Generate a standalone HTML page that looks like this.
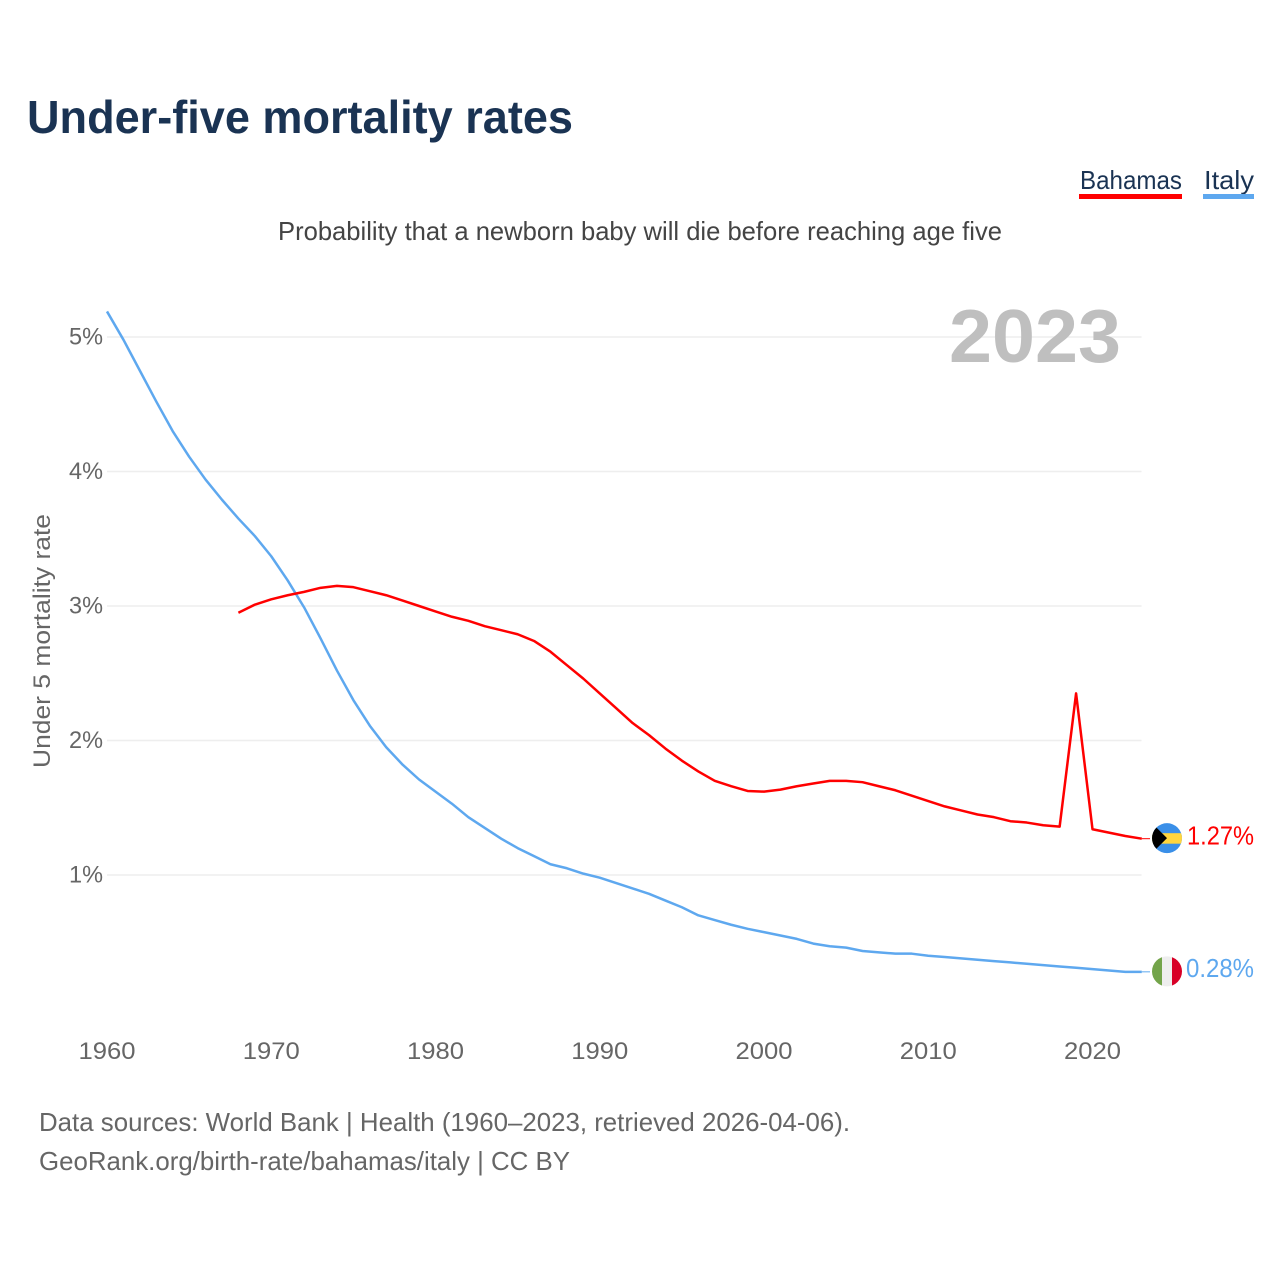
<!DOCTYPE html>
<html lang="en">
<head>
<meta charset="utf-8">
<title>Under-five mortality rates</title>
<style>
html,body{margin:0;padding:0;background:#fff;}
svg{display:block;}
text{font-family:"Liberation Sans",sans-serif;}
</style>
</head>
<body>
<svg id="chart" xmlns="http://www.w3.org/2000/svg" width="1280" height="1280" viewBox="0 0 1280 1280">
  <defs>
    <clipPath id="clip-bs"><circle id="clip-bs-c" r="15"></circle></clipPath>
    <clipPath id="clip-it"><circle id="clip-it-c" r="15"></circle></clipPath>
  </defs>
  <rect width="1280" height="1280" fill="#fff"></rect>

  <text x="27" y="133" font-size="46" font-weight="700" fill="#1a3353" textLength="546" lengthAdjust="spacingAndGlyphs">Under-five mortality rates</text>

  <text x="278" y="240" font-size="26" fill="#444" textLength="724" lengthAdjust="spacingAndGlyphs">Probability that a newborn baby will die before reaching age five</text>

  <g>
    <g>
      <text x="1080" y="189" font-size="26" fill="#1a3353" textLength="102" lengthAdjust="spacingAndGlyphs">Bahamas</text>
      <rect x="1079" y="194" width="103" height="5" fill="#ff0000"></rect>
    </g>
    <g>
      <text x="1204" y="189" font-size="26" fill="#1a3353" textLength="50" lengthAdjust="spacingAndGlyphs">Italy</text>
      <rect x="1203" y="194" width="51" height="5" fill="#5ea8ef"></rect>
    </g>
  </g>

  <text transform="translate(50,768) rotate(-90)" x="0" y="0" font-size="24" fill="#666" textLength="254" lengthAdjust="spacingAndGlyphs">Under 5 mortality rate</text>

  <g id="grid"></g>
  <g id="y-ticks"></g>
  <g id="x-ticks"></g>

  <text x="949" y="362" font-size="75" font-weight="700" fill="#bfbfbf" textLength="172" lengthAdjust="spacingAndGlyphs">2023</text>

  <g id="series"></g>
  <g id="ends"></g>

  <text x="39" y="1131" font-size="26" fill="#666" textLength="811" lengthAdjust="spacingAndGlyphs">Data sources: World Bank | Health (1960–2023, retrieved 2026-04-06).</text>
  <text x="39" y="1170" font-size="26" fill="#666" textLength="531" lengthAdjust="spacingAndGlyphs">GeoRank.org/birth-rate/bahamas/italy | CC BY</text>
</svg>
<script>
const yTicks = [1, 2, 3, 4, 5];
const yTickLabels = ['1%', '2%', '3%', '4%', '5%'];
const xTicks = [1960, 1970, 1980, 1990, 2000, 2010, 2020];
const italyStartYear = 1960;
const bahamasStartYear = 1968;
const italyValues = [
  5.19, 4.98, 4.75, 4.52, 4.30, 4.11, 3.94, 3.79, 3.65, 3.52,
  3.37, 3.19, 2.99, 2.76, 2.52, 2.30, 2.11, 1.95, 1.82, 1.71,
  1.62, 1.53, 1.43, 1.35, 1.27, 1.20, 1.14, 1.08, 1.05, 1.01,
  0.98, 0.94, 0.90, 0.86, 0.81, 0.76, 0.70, 0.665, 0.63, 0.60,
  0.575, 0.55, 0.525, 0.49, 0.47, 0.46, 0.435, 0.425, 0.415, 0.415,
  0.40, 0.39, 0.38, 0.37, 0.36, 0.35, 0.34, 0.33, 0.32, 0.31,
  0.30, 0.29, 0.28, 0.28
];
const bahamasValues = [
  2.95, 3.01, 3.05, 3.08, 3.105, 3.135, 3.15, 3.14, 3.11, 3.08,
  3.04, 3.00, 2.96, 2.92, 2.89, 2.85, 2.82, 2.79, 2.74, 2.66,
  2.56, 2.46, 2.35, 2.24, 2.13, 2.04, 1.94, 1.85, 1.77, 1.70,
  1.66, 1.625, 1.62, 1.635, 1.66, 1.68, 1.70, 1.70, 1.69, 1.66,
  1.63, 1.59, 1.55, 1.51, 1.48, 1.45, 1.43, 1.40, 1.39, 1.37,
  1.36, 2.35, 1.34, 1.315, 1.29, 1.27
];
const italyFinalLabel = '0.28%';
const bahamasFinalLabel = '1.27%';

const NS = 'http://www.w3.org/2000/svg';
const xScale = function (year) { return 107 + (year - 1960) * 16.425; };
const yScale = function (v) { return 1009.5 - v * 134.5; };

function make(tag, attrs, parent, content) {
  const el = document.createElementNS(NS, tag);
  Object.keys(attrs).forEach(function (k) { el.setAttribute(k, attrs[k]); });
  if (content !== undefined) el.textContent = content;
  parent.appendChild(el);
  return el;
}

const gridG = document.getElementById('grid');
const yG = document.getElementById('y-ticks');
yTicks.forEach(function (v, i) {
  const line = make('line', { x1: 107, x2: 1141.5, y1: yScale(v), y2: yScale(v), stroke: '#eeeeee', 'stroke-width': 1.5 }, gridG);
  
  
  const label = make('text', { x: 103, y: yScale(v) + 7.5, 'font-size': 24, fill: '#666', 'text-anchor': 'end', textLength: 34, lengthAdjust: 'spacingAndGlyphs' }, yG, yTickLabels[i]);
  
  
});

const xG = document.getElementById('x-ticks');
xTicks.forEach(function (year) {
  const label = make('text', { x: xScale(year), y: 1059, 'font-size': 24, fill: '#666', 'text-anchor': 'middle', textLength: 57, lengthAdjust: 'spacingAndGlyphs' }, xG, String(year));
  
  
});

function linePath(values, startYear) {
  return values.map(function (v, i) {
    return (i ? 'L' : 'M') + xScale(startYear + i).toFixed(2) + ' ' + yScale(v).toFixed(2);
  }).join(' ');
}

const seriesG = document.getElementById('series');

const italyLine = make('path', { d: linePath(italyValues, italyStartYear), fill: 'none', stroke: '#5ea8ef', 'stroke-width': 2.5, 'stroke-linejoin': 'round' }, seriesG);



const bahamasLine = make('path', { d: linePath(bahamasValues, bahamasStartYear), fill: 'none', stroke: '#ff0000', 'stroke-width': 2.5, 'stroke-linejoin': 'round' }, seriesG);



const endsG = document.getElementById('ends');
const lastX = xScale(2023);
const cx = 1167;
const bsY = yScale(bahamasValues[bahamasValues.length - 1]);
const itY = yScale(italyValues[italyValues.length - 1]);

const bsTick = make('line', { x1: lastX, x2: 1150, y1: bsY, y2: bsY, stroke: '#ff0000', 'stroke-width': 1 }, endsG);


const itTick = make('line', { x1: lastX, x2: 1150, y1: itY, y2: itY, stroke: '#5ea8ef', 'stroke-width': 1 }, endsG);



document.getElementById('clip-bs-c').setAttribute('cx', cx);
document.getElementById('clip-bs-c').setAttribute('cy', bsY - 0.5);
document.getElementById('clip-it-c').setAttribute('cx', cx);
document.getElementById('clip-it-c').setAttribute('cy', itY - 0.5);

const bsFlag = make('g', { 'clip-path': 'url(#clip-bs)' }, endsG);


make('rect', { x: cx - 15, y: bsY - 16, width: 30, height: 32, fill: '#3a8fe8' }, bsFlag);
make('rect', { x: cx - 15, y: bsY - 5.5, width: 30, height: 10.5, fill: '#ffd53e' }, bsFlag);
make('polygon', { points: [cx - 16, bsY - 16.5, cx, bsY - 0.5, cx - 16, bsY + 15.5].join(' '), fill: '#000' }, bsFlag);

const itFlag = make('g', { 'clip-path': 'url(#clip-it)' }, endsG);


make('rect', { x: cx - 15, y: itY - 16, width: 10, height: 32, fill: '#73a44a' }, itFlag);
make('rect', { x: cx - 5, y: itY - 16, width: 10, height: 32, fill: '#eeeeee' }, itFlag);
make('rect', { x: cx + 5, y: itY - 16, width: 10, height: 32, fill: '#d80027' }, itFlag);

const bsLabel = make('text', { x: 1187, y: bsY + 6, 'font-size': 26, fill: '#ff0000', textLength: 67, lengthAdjust: 'spacingAndGlyphs' }, endsG, bahamasFinalLabel);


const itLabel = make('text', { x: 1186, y: itY + 5, 'font-size': 26, fill: '#5ea8ef', textLength: 68, lengthAdjust: 'spacingAndGlyphs' }, endsG, italyFinalLabel);


</script>
</body>
</html>
